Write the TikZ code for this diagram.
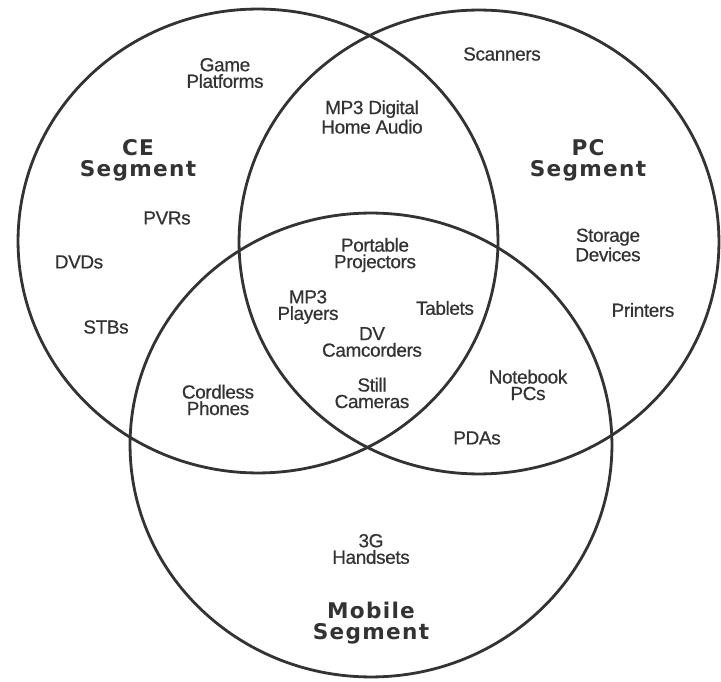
\documentclass[tikz,border=0pt]{standalone}
\usepackage{fontspec}
\setmainfont{Liberation Sans}
\newfontfamily\itemfont[FakeBold=0.6, LetterSpace=-2]{Liberation Sans}
\newfontfamily\titlefont[LetterSpace=6]{DejaVu Sans}
\definecolor{ink}{HTML}{333333}
\definecolor{textink}{HTML}{333333}
\tikzset{
  ring/.style={draw=ink, line width=1.6pt},
  item/.style={text=textink, align=center, inner sep=0pt,
    font=\itemfont\fontsize{10.8}{9.4}\selectfont},
  title/.style={text=textink, align=center, inner sep=0pt,
    font=\titlefont\bfseries\fontsize{12.3}{12}\selectfont}
}
\begin{document}
\begin{tikzpicture}[x=0.02cm, y=-0.02cm]
  \useasboundingbox[fill=white] (0,0) rectangle (721,682);

  % the three market segments
  \draw[ring] (258,241) ellipse [x radius=4.8cm, y radius=4.64cm];
  \draw[ring] (479,242) ellipse [x radius=4.8cm, y radius=4.64cm];
  \draw[ring] (371,445) ellipse [x radius=4.82cm, y radius=4.64cm];

  % segment titles
  \node[title] (ce)  at (138,160) {CE\\Segment};
  \node[title] (pc)  at (588,160) {PC\\Segment};
  \node[title] (mob) at (371,623) {Mobile\\Segment};

  % CE only
  \node[item] (game) at (225,73)  {Game\\Platforms};
  \node[item] (pvr)  at (167,218) {PVRs};
  \node[item] (dvd)  at (79,262)  {DVDs};
  \node[item] (stb)  at (106,327) {STBs};

  % PC only
  \node[item] (scan)  at (502,54)  {Scanners};
  \node[item] (store) at (608,245) {Storage\\Devices};
  \node[item] (print) at (643,310) {Printers};

  % CE and PC
  \node[item] (mp3h) at (372,117) {MP3 Digital\\Home Audio};

  % all three
  \node[item] (proj) at (375,255) {Portable\\Projectors};
  \node[item] (mp3p) at (308,307) {MP3\\Players};
  \node[item] (tab)  at (445,308) {Tablets};
  \node[item] (dv)   at (372,342) {DV\\Camcorders};
  \node[item] (cam)  at (372,393) {Still\\Cameras};

  % CE and Mobile
  \node[item] (cord) at (218,400) {Cordless\\Phones};

  % PC and Mobile
  \node[item] (note) at (528,385) {Notebook\\PCs};
  \node[item] (pda)  at (477,438) {PDAs};

  % Mobile only
  \node[item] (hand) at (371,549) {3G\\Handsets};
\end{tikzpicture}
\end{document}
